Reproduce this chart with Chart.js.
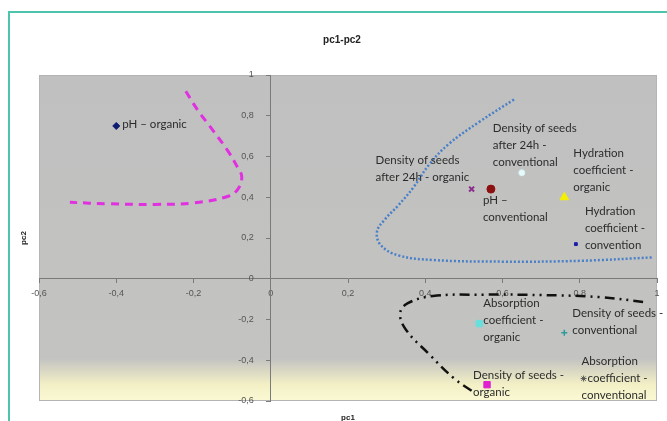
<!DOCTYPE html>
<html>
<head>
<meta charset="utf-8">
<script src="https://cdn.jsdelivr.net/npm/chart.js@4.4.1/dist/chart.umd.min.js"></script>
<style>
  html, body { margin: 0; padding: 0; background: #ffffff; }
  #wrap { position: relative; width: 667px; height: 421px; overflow: hidden; }
  #wrap canvas { position: absolute; left: 0; top: 0; }
  #frame {
    position: absolute; left: 8px; top: 11px; right: -10px; bottom: -10px;
    border-top: 2px solid #4cc4ae; border-left: 2px solid #4cc4ae;
    pointer-events: none;
  }
</style>
</head>
<body>
<div id="wrap">
  <canvas id="chart" width="667" height="421"></canvas>
  <div id="frame"></div>
</div>
<script>
// Titles
const chartTitle = 'pc1-pc2';
const xAxisTitle = 'pc1';
const yAxisTitle = 'pc2';

// Tick values of both axes
const xTicks = [-0.6, -0.4, -0.2, 0, 0.2, 0.4, 0.6, 0.8, 1];
const yTicks = [-0.6, -0.4, -0.2, 0, 0.2, 0.4, 0.6, 0.8, 1];

// Variables (wrapped as they are printed next to their markers)
const categories = [
  'pH \u2013 organic',
  'Density of seeds\nafter 24h - organic',
  'pH \u2013\nconventional',
  'Density of seeds\nafter 24h -\nconventional',
  'Hydration\ncoefficient -\norganic',
  'Hydration\ncoefficient -\nconvention',
  'Absorption\ncoefficient -\norganic',
  'Density of seeds -\nconventional',
  'Density of seeds -\norganic',
  'Absorption\n  coefficient -\nconventional'
];
const pc1 = [-0.40, 0.52, 0.57, 0.65, 0.76, 0.79, 0.54, 0.76, 0.56, 0.81];
const pc2 = [0.75, 0.44, 0.44, 0.52, 0.40, 0.17, -0.22, -0.265, -0.52, -0.49];

// Hand-drawn grouping curves
const pinkX = [-0.22, -0.19, -0.156, -0.112, -0.086, -0.075, -0.085, -0.11, -0.2, -0.3, -0.42, -0.52];
const pinkY = [0.92, 0.83, 0.744, 0.63, 0.547, 0.50, 0.44, 0.405, 0.372, 0.365, 0.368, 0.375];
const blueX = [0.63, 0.54, 0.46, 0.41, 0.37, 0.33, 0.295, 0.275, 0.285, 0.33, 0.42, 0.6, 0.8, 0.99];
const blueY = [0.88, 0.77, 0.66, 0.56, 0.45, 0.36, 0.29, 0.23, 0.165, 0.115, 0.092, 0.084, 0.088, 0.105];
const blackX = [0.52, 0.475, 0.41, 0.35, 0.335, 0.355, 0.42, 0.55, 0.7, 0.85, 0.97];
const blackY = [-0.55, -0.49, -0.37, -0.25, -0.17, -0.12, -0.085, -0.078, -0.08, -0.09, -0.115];

// Marker look for each variable
const markerStyles = [
  { pointStyle: 'rectRot', radius: 3.5, bg: '#0d1b70', border: '#0d1b70', bw: 1 },
  { pointStyle: 'crossRot', radius: 3.5, bg: '#8b2d8b', border: '#8b2d8b', bw: 2 },
  { pointStyle: 'circle', radius: 4, bg: '#8c1010', border: '#8c1010', bw: 1 },
  { pointStyle: 'circle', radius: 3, bg: '#e8fbfb', border: '#d8f4f4', bw: 1 },
  { pointStyle: 'triangle', radius: 5, bg: '#f4f000', border: '#f4f000', bw: 1 },
  { pointStyle: 'rect', radius: 2, bg: '#1c1ca8', border: '#1c1ca8', bw: 1 },
  { pointStyle: 'rect', radius: 4.5, bg: '#66e0dc', border: '#66e0dc', bw: 1 },
  { pointStyle: 'cross', radius: 3, bg: '#2a9c9c', border: '#2a9c9c', bw: 1.5 },
  { pointStyle: 'rect', radius: 4.5, bg: '#e020d0', border: '#e020d0', bw: 1 },
  { pointStyle: 'star', radius: 3, bg: '#555555', border: '#555555', bw: 1 }
];
// Text offset (left edge, centre of first line) from each marker
const labelOffsets = [[6, -2], [-96, -29], [-8, 11], [-29, -45], [9, -44], [9, -33], [4, -20], [8, -19], [-14, -9], [-2, -17]];

const toPoints = (xs, ys) => xs.map((x, i) => ({ x, y: ys[i] }));
const fmt = v => String(Math.round(v * 10) / 10).replace('.', ',');

const curveDatasets = [
  { data: toPoints(pinkX, pinkY), borderColor: '#e030e0', borderWidth: 3, borderDash: [8, 6] },
  { data: toPoints(blueX, blueY), borderColor: '#4a80c8', borderWidth: 2.5, borderDash: [2, 2] },
  { data: toPoints(blackX, blackY), borderColor: '#111111', borderWidth: 2.5, borderDash: [10, 5, 2, 5, 2, 5] }
].map(d => Object.assign(d, { showLine: true, tension: 0.4, pointRadius: 0, fill: false }));

const pointDatasets = categories.map((name, i) => {
  const s = markerStyles[i];
  return {
    label: name,
    data: [{ x: pc1[i], y: pc2[i] }],
    pointStyle: s.pointStyle,
    pointRadius: s.radius,
    backgroundColor: s.bg,
    borderColor: s.border,
    borderWidth: s.bw,
    showLine: false
  };
});

const decor = {
  id: 'decor',
  beforeDraw(chart) {
    const { ctx, chartArea: a } = chart;
    ctx.save();
    const g = ctx.createLinearGradient(0, a.top, 0, a.bottom);
    g.addColorStop(0, '#c0c0c0');
    g.addColorStop(0.87, '#c3c3c1');
    g.addColorStop(0.95, '#f3f0c6');
    g.addColorStop(1, '#fbf9d4');
    ctx.fillStyle = g;
    ctx.fillRect(a.left, a.top, a.right - a.left, a.bottom - a.top);
    ctx.strokeStyle = '#b4b4b4';
    ctx.lineWidth = 1;
    ctx.strokeRect(a.left + 0.5, a.top + 0.5, a.right - a.left - 1, a.bottom - a.top - 1);
    ctx.restore();
    // keep the y tick labels clear of the axis line that crosses at x = 0
    const items = chart.scales.y.getLabelItems(a);
    if (!items._shifted) {
      items.forEach(it => { it.options.translation[0] -= 17; });
      items._shifted = true;
    }
  },
  afterDatasetsDraw(chart) {
    const { ctx, scales } = chart;
    ctx.save();
    ctx.font = '11.5px Lato, "Liberation Sans", sans-serif';
    ctx.fillStyle = '#2c2c2c';
    ctx.textAlign = 'left';
    ctx.textBaseline = 'middle';
    categories.forEach((name, i) => {
      const px = scales.x.getPixelForValue(pc1[i]);
      const py = scales.y.getPixelForValue(pc2[i]);
      const [dx, dy] = labelOffsets[i];
      name.split('\n').forEach((line, k) => ctx.fillText(line, px + dx, py + dy + k * 17));
    });
    ctx.restore();
  },
  afterDraw(chart) {
    const { ctx } = chart;
    ctx.save();
    ctx.fillStyle = '#222222';
    ctx.textAlign = 'center';
    ctx.textBaseline = 'middle';
    ctx.font = 'bold 10px "Liberation Sans", sans-serif';
    ctx.fillText(chartTitle, 342, 40);
    ctx.font = 'bold 8px "Liberation Sans", sans-serif';
    ctx.fillText(xAxisTitle, 348, 418);
    ctx.translate(24, 238);
    ctx.rotate(-Math.PI / 2);
    ctx.fillText(yAxisTitle, 0, 0);
    ctx.restore();
  }
};

const axisCommon = {
  type: 'linear',
  min: -0.6,
  max: 1,
  border: { display: true, color: '#7a7a7a', width: 1 },
  grid: { drawOnChartArea: false, drawTicks: true, tickLength: 4, color: '#7a7a7a' },
  ticks: {
    padding: 5,
    color: '#555555',
    font: { family: '"Liberation Sans", Arial, sans-serif', size: 9 },
    callback: v => fmt(v)
  }
};

new Chart(document.getElementById('chart'), {
  type: 'scatter',
  data: { datasets: [...curveDatasets, ...pointDatasets] },
  options: {
    responsive: false,
    animation: false,
    layout: { padding: { left: 39, top: 75, right: 10, bottom: 20 } },
    plugins: { legend: { display: false }, tooltip: { enabled: false }, title: { display: false } },
    scales: {
      x: Object.assign({}, axisCommon, {
        position: { y: 0 },
        afterBuildTicks: s => { s.ticks = xTicks.map(v => ({ value: v })); }
      }),
      y: Object.assign({}, axisCommon, {
        position: { x: 0 },
        afterBuildTicks: s => { s.ticks = yTicks.map(v => ({ value: v })); }
      })
    }
  },
  plugins: [decor]
});
</script>
</body>
</html>
